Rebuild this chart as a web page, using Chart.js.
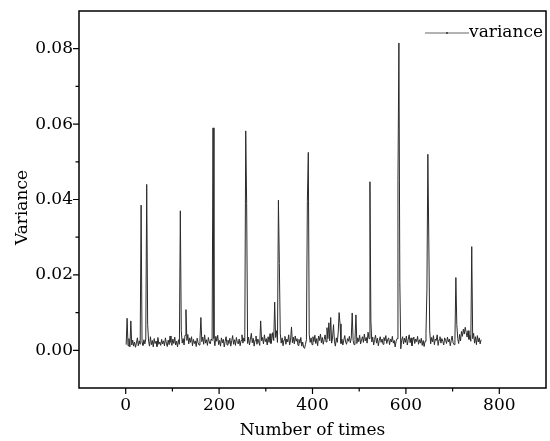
<!DOCTYPE html>
<html>
<head>
<meta charset="utf-8">
<style>
  html, body { margin: 0; padding: 0; background: #fff; }
  #wrap { width: 550px; height: 441px; }
</style>
<script src="https://cdn.jsdelivr.net/npm/chart.js@4/dist/chart.umd.min.js"></script>
</head>
<body>
<div id="wrap"><canvas id="varianceChart" width="550" height="441"></canvas></div>
<script>
const firstTime = 1;
const timeStep = 2;

const variance = [
  0.0015, 0.0085, 0.0012, 0.0031, 0.0009, 0.0078, 0.0014, 0.0027, 0.0011, 0.0022, 0.0008, 0.0019, 0.0033, 0.0012, 0.0025, 0.0016, 0.0385, 0.0021, 0.0013, 0.0028,
  0.0017, 0.0030, 0.0440, 0.0069, 0.0024, 0.0011, 0.0036, 0.0015, 0.0026, 0.0009, 0.0031, 0.0018, 0.0024, 0.0010, 0.0034, 0.0016, 0.0022, 0.0013, 0.0029, 0.0017,
  0.0025, 0.0012, 0.0033, 0.0019, 0.0010, 0.0027, 0.0015, 0.0038, 0.0021, 0.0013, 0.0030, 0.0018, 0.0035, 0.0014, 0.0024, 0.0009, 0.0028, 0.0016, 0.0370, 0.0052,
  0.0019, 0.0031, 0.0014, 0.0040, 0.0108, 0.0026, 0.0042, 0.0017, 0.0033, 0.0021, 0.0036, 0.0012, 0.0029, 0.0018, 0.0025, 0.0010, 0.0032, 0.0020, 0.0014, 0.0027,
  0.0087, 0.0023, 0.0035, 0.0016, 0.0041, 0.0019, 0.0028, 0.0013, 0.0034, 0.0022, 0.0017, 0.0030, 0.0026, 0.0590, 0.0031, 0.0012, 0.0037, 0.0024, 0.0040, 0.0015,
  0.0026, 0.0011, 0.0033, 0.0020, 0.0029, 0.0009, 0.0024, 0.0036, 0.0014, 0.0027, 0.0018, 0.0032, 0.0011, 0.0025, 0.0039, 0.0016, 0.0028, 0.0013, 0.0034, 0.0021,
  0.0017, 0.0030, 0.0012, 0.0026, 0.0041, 0.0019, 0.0033, 0.0024, 0.0582, 0.0390, 0.0018, 0.0035, 0.0014, 0.0029, 0.0045, 0.0020, 0.0032, 0.0011, 0.0027, 0.0038,
  0.0016, 0.0030, 0.0022, 0.0013, 0.0078, 0.0025, 0.0034, 0.0017, 0.0041, 0.0023, 0.0031, 0.0014, 0.0036, 0.0021, 0.0044, 0.0018, 0.0029, 0.0047, 0.0026, 0.0128,
  0.0034, 0.0052, 0.0021, 0.0398, 0.0230, 0.0045, 0.0019, 0.0033, 0.0012, 0.0028, 0.0037, 0.0016, 0.0030, 0.0022, 0.0041, 0.0014, 0.0027, 0.0062, 0.0020, 0.0035,
  0.0017, 0.0038, 0.0024, 0.0031, 0.0013, 0.0029, 0.0019, 0.0034, 0.0011, 0.0022, 0.0008, 0.0005, 0.0016, 0.0028, 0.0395, 0.0525, 0.0042, 0.0021, 0.0033, 0.0015,
  0.0036, 0.0023, 0.0040, 0.0018, 0.0031, 0.0012, 0.0038, 0.0026, 0.0043, 0.0020, 0.0034, 0.0016, 0.0029, 0.0041, 0.0022, 0.0060, 0.0031, 0.0073, 0.0025, 0.0087,
  0.0019, 0.0035, 0.0068, 0.0024, 0.0011, 0.0033, 0.0021, 0.0046, 0.0100, 0.0070, 0.0018, 0.0030, 0.0014, 0.0027, 0.0039, 0.0022, 0.0016, 0.0031, 0.0024, 0.0037,
  0.0020, 0.0032, 0.0099, 0.0026, 0.0015, 0.0029, 0.0094, 0.0018, 0.0033, 0.0023, 0.0040, 0.0017, 0.0028, 0.0036, 0.0021, 0.0043, 0.0025, 0.0034, 0.0019, 0.0048,
  0.0031, 0.0447, 0.0078, 0.0022, 0.0035, 0.0014, 0.0029, 0.0040, 0.0019, 0.0032, 0.0012, 0.0027, 0.0036, 0.0021, 0.0030, 0.0016, 0.0034, 0.0025, 0.0039, 0.0018,
  0.0028, 0.0033, 0.0015, 0.0030, 0.0022, 0.0037, 0.0019, 0.0026, 0.0009, 0.0024, 0.0031, 0.0450, 0.0815, 0.0180, 0.0004, 0.0027, 0.0036, 0.0017, 0.0032, 0.0021,
  0.0038, 0.0014, 0.0029, 0.0041, 0.0020, 0.0033, 0.0012, 0.0027, 0.0035, 0.0018, 0.0030, 0.0023, 0.0037, 0.0016, 0.0028, 0.0019, 0.0032, 0.0013, 0.0026, 0.0010,
  0.0024, 0.0045, 0.0160, 0.0520, 0.0295, 0.0052, 0.0017, 0.0034, 0.0022, 0.0039, 0.0015, 0.0030, 0.0026, 0.0041, 0.0013, 0.0028, 0.0036, 0.0019, 0.0031, 0.0024,
  0.0014, 0.0033, 0.0027, 0.0018, 0.0035, 0.0022, 0.0030, 0.0012, 0.0026, 0.0038, 0.0020, 0.0015, 0.0029, 0.0193, 0.0068, 0.0031, 0.0018, 0.0042, 0.0025, 0.0050,
  0.0037, 0.0056, 0.0043, 0.0061, 0.0048, 0.0035, 0.0052, 0.0029, 0.0040, 0.0024, 0.0275, 0.0031, 0.0045, 0.0019, 0.0036, 0.0015, 0.0039, 0.0022, 0.0033, 0.0017,
  0.0028
];

const xTickLabels = [0, 200, 400, 600, 800];
const yTickLabels = [0.00, 0.02, 0.04, 0.06, 0.08];
const yTitle = 'Variance';

const points = variance.map((v, i) => ({ x: firstTime + i * timeStep, y: v }));

Chart.defaults.font.family = "'DejaVu Serif', serif";
Chart.defaults.font.size = 17;
Chart.defaults.color = '#000';

// box frame, major/minor ticks, y title and the in-plot legend
const frameAndTicks = {
  id: 'frameAndTicks',
  afterDraw(chart) {
    const { ctx, chartArea: a, scales: { x, y } } = chart;
    ctx.save();
    ctx.strokeStyle = '#000';
    ctx.lineWidth = 1.5;
    ctx.strokeRect(a.left, a.top, a.right - a.left, a.bottom - a.top);

    ctx.lineWidth = 1.2;
    ctx.beginPath();
    x.ticks.forEach(t => {
      if (t.value <= x.min || t.value >= x.max) return;
      const px = x.getPixelForValue(t.value);
      const len = xTickLabels.includes(t.value) ? 6 : 3.5;
      ctx.moveTo(px, a.bottom);
      ctx.lineTo(px, a.bottom + len);
    });
    y.ticks.forEach(t => {
      if (t.value <= y.min + 1e-9 || t.value >= y.max - 1e-9) return;
      const py = y.getPixelForValue(t.value);
      const major = yTickLabels.some(v => Math.abs(v - t.value) < 1e-9);
      ctx.moveTo(a.left, py);
      ctx.lineTo(a.left - (major ? 6 : 3.5), py);
    });
    ctx.stroke();

    ctx.font = "17px 'DejaVu Serif', serif";
    ctx.fillStyle = '#000';

    // y title, sits a little below the middle of the axis
    ctx.save();
    ctx.translate(23, (a.top + a.bottom) / 2 + 8);
    ctx.rotate(-Math.PI / 2);
    ctx.textAlign = 'center';
    ctx.textBaseline = 'middle';
    ctx.fillText(yTitle, 0, 0);
    ctx.restore();

    // legend
    const label = chart.data.datasets[0].label;
    const tw = ctx.measureText(label).width;
    const tx = a.right - 3 - tw;
    const ly = a.top + 22;
    ctx.strokeStyle = '#666';
    ctx.lineWidth = 1;
    ctx.beginPath();
    ctx.moveTo(tx - 44, ly);
    ctx.lineTo(tx, ly);
    ctx.stroke();
    ctx.fillStyle = '#333';
    ctx.beginPath();
    ctx.arc(tx - 22, ly, 1, 0, Math.PI * 2);
    ctx.fill();
    ctx.fillStyle = '#000';
    ctx.textBaseline = 'middle';
    ctx.textAlign = 'left';
    ctx.fillText(label, tx, ly);
    ctx.restore();
  }
};

const config = {
  type: 'line',
  data: {
    datasets: [{
      label: 'variance',
      data: points,
      borderColor: '#2a2a2a',
      borderWidth: 1,
      pointRadius: 0,
      tension: 0,
      fill: false
    }]
  },
  options: {
    responsive: false,
    animation: false,
    layout: { padding: { top: 11, right: 4, left: 0, bottom: 0 } },
    plugins: {
      legend: { display: false },
      tooltip: { enabled: false }
    },
    scales: {
      x: {
        type: 'linear',
        min: -100,
        max: 900,
        border: { display: false },
        grid: { display: true, drawOnChartArea: false, tickLength: 6, tickColor: 'rgba(0,0,0,0)' },
        ticks: {
          stepSize: 100,
          autoSkip: false,
          maxRotation: 0,
          padding: 1,
          callback: v => xTickLabels.includes(v) ? String(v) : ''
        },
        title: { display: true, text: 'Number of times', padding: { top: 0, bottom: 0 } },
        afterFit: s => { s.height = 53; }
      },
      y: {
        min: -0.01,
        max: 0.09,
        border: { display: false },
        grid: { display: true, drawOnChartArea: false, tickLength: 6, tickColor: 'rgba(0,0,0,0)' },
        ticks: {
          stepSize: 0.01,
          autoSkip: false,
          padding: 0,
          callback: v => {
            const hit = yTickLabels.find(t => Math.abs(t - v) < 1e-9);
            return hit === undefined ? '' : hit.toFixed(2);
          }
        },
        afterFit: s => { s.width = 79; }
      }
    }
  },
  plugins: [frameAndTicks]
};

const varianceChart = new Chart(
  document.getElementById('varianceChart'),
  config
);
</script>
</body>
</html>
